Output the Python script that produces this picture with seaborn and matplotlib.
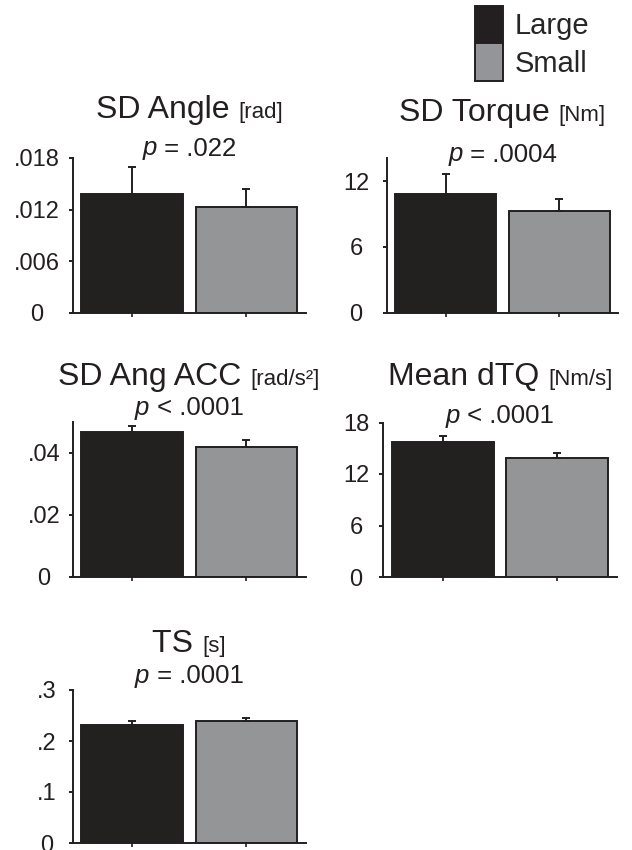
import numpy as np
import pandas as pd
import matplotlib
matplotlib.use("Agg")
import matplotlib.pyplot as plt
import seaborn as sns
from matplotlib.patches import Patch

# ---- data ----
groups = ["Large", "Small"]
colors = ["#231f20", "#939598"]

titles = ["SD Angle", "SD Torque", "SD Ang ACC", "Mean dTQ", "TS"]
units = ["[rad]", "[Nm]", "[rad/s²]", "[Nm/s]", "[s]"]
p_ops = ["=", "=", "<", "<", "="]
p_vals = [".022", ".0004", ".0001", ".0001", ".0001"]

sd_angle = [0.0138, 0.01234]
sd_angle_err = [0.00315, 0.00202]
sd_torque = [10.77, 9.23]
sd_torque_err = [1.91, 1.14]
sd_ang_acc = [0.0468, 0.0419]
sd_ang_acc_err = [0.0018, 0.0022]
mean_dtq = [15.73, 13.82]
mean_dtq_err = [0.73, 0.63]
ts = [0.2314, 0.2384]
ts_err = [0.0084, 0.0066]

means = [sd_angle, sd_torque, sd_ang_acc, mean_dtq, ts]
errs = [sd_angle_err, sd_torque_err, sd_ang_acc_err, mean_dtq_err, ts_err]

ymax = [0.018, 14.1, 0.05, 18, 0.3]
yticks = [[0, 0.006, 0.012, 0.018], [0, 6, 12], [0, 0.02, 0.04],
          [0, 6, 12, 18], [0, 0.1, 0.2, 0.3]]
yticklabels = [["0", ".006", ".012", ".018"], ["0", "6", "12"],
               ["0", ".02", ".04"], ["0", "6", "12", "18"],
               ["0", ".1", ".2", ".3"]]

# ---- layout (pixels) ----
W, H = 632, 850
# left, top, right, bottom of each axes box
boxes = [(72.5, 158, 306, 312.5), (387, 158, 618, 312.5),
         (72.5, 422, 306, 576.5), (383, 422.5, 617, 577),
         (72.5, 690, 306, 843)]
label_cx = [37, 356, 44, 356, 47]     # centre of the y tick labels
title_base = [118, 121, 385, 385, 652]
p_base = [155.5, 161.5, 415, 423, 683]
tick_len = 3  # points

sns.set_style("ticks")
plt.rcParams["font.family"] = ["Liberation Sans", "DejaVu Sans"]
plt.rcParams["axes.linewidth"] = 1.4

fig = plt.figure(figsize=(W / 100, H / 100), dpi=100)
renderer = fig.canvas.get_renderer()


def centered_pieces(cx, y, pieces, gap=0):
    # pieces: (text, size, style); drawn left to right, centred on cx
    objs = [fig.text(0, 0, t, fontsize=s, style=st, va="baseline", ha="left",
                     color="#231f20")
            for t, s, st in pieces]
    widths = [o.get_window_extent(renderer).width for o in objs]
    total = sum(widths) + gap * (len(objs) - 1)
    x = cx - total / 2
    for o, w in zip(objs, widths):
        o.set_position((x / W, 1 - y / H))
        x += w + gap


for i, (l, t, r, b) in enumerate(boxes):
    ax = fig.add_axes([l / W, 1 - b / H, (r - l) / W, (b - t) / H])
    df = pd.DataFrame({"group": groups, "value": means[i]})
    sns.barplot(data=df, x="group", y="value", hue="group", palette=colors,
                width=0.89, edgecolor="#231f20", linewidth=1.4,
                legend=False, ax=ax)
    ax.errorbar([0, 1], means[i], yerr=[[0, 0], errs[i]], fmt="none",
                ecolor="#231f20", elinewidth=1.4, capsize=3, capthick=1.4,
                zorder=1)
    ax.set_xlim(-0.52, 1.52)
    ax.set_ylim(0, ymax[i])
    ax.set_yticks(yticks[i])
    ax.set_yticklabels(yticklabels[i], ha="center")
    ax.set_xticks([0, 1])
    ax.set_xticklabels([])
    ax.set_xlabel("")
    ax.set_ylabel("")
    pad_pt = (l - label_cx[i]) * 0.72 - tick_len
    ax.tick_params(axis="y", labelsize=17, length=tick_len, width=1.4,
                   pad=pad_pt, colors="#231f20")
    ax.tick_params(axis="x", length=3, width=1.2, colors="#231f20")
    sns.despine(ax=ax)
    for s in ["left", "bottom"]:
        ax.spines[s].set_color("#231f20")

    cx = (l + r) / 2
    centered_pieces(cx, title_base[i], [(titles[i] + " ", 23, "normal"),
                                        (units[i], 16, "normal")])
    centered_pieces(cx, p_base[i], [("p", 18.5, "italic"),
                                    (" " + p_ops[i] + " " + p_vals[i], 18.5, "normal")])

handles = [Patch(facecolor=c, edgecolor="#231f20", linewidth=1.4) for c in colors]
fig.legend(handles, groups, loc="upper left",
           bbox_to_anchor=(475 / W, 1 - 6 / H), frameon=False, fontsize=21,
           handlelength=0.95, handleheight=1.6, labelspacing=0.0,
           handletextpad=0.4, borderpad=0.0, borderaxespad=0.0)

fig.savefig("out.png", dpi=100)
